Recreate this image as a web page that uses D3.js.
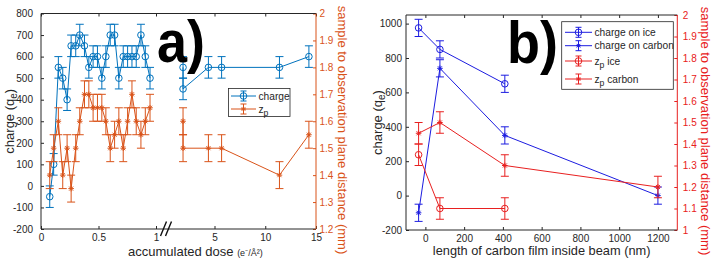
<!DOCTYPE html>
<html><head><meta charset="utf-8">
<script src="https://cdn.jsdelivr.net/npm/d3@7/dist/d3.min.js"></script>
<style>body{margin:0;background:#fff}svg{display:block}text{font-family:"Liberation Sans",Arial,Helvetica,sans-serif}</style>
</head><body><svg id="c" width="716" height="263"></svg>
<script>
// ---------- data: panel a ----------
const doseLow   = [0.076,0.110,0.151,0.189,0.227,0.262,0.302,0.337,0.378,0.416,0.453,0.491,0.529,0.564,0.602,0.640,0.677,0.715,0.753,0.791,0.828,0.869,0.907,0.948];
const chargeLow = [-50,100,550,500,400,650,650,700,650,550,600,600,500,600,700,700,500,600,600,600,600,700,600,500];
const zpLow     = [1.4,1.5,1.6,1.4,1.5,1.35,1.5,1.6,1.7,1.7,1.65,1.65,1.65,1.6,1.5,1.55,1.6,1.5,1.6,1.7,1.6,1.55,1.6,1.65];
const doseHigh   = [1.9,1.9,4.4,5.7,11.4,14.3];
const chargeHigh = [550,450,550,550,550,600];
const zpHigh     = [1.6,1.5,1.5,1.5,1.4,1.55];
const chargeErrA = 50, zpErrA = 0.05;
const doseTicksLow = [0,0.5,1];
const doseTicksHigh = [5,10,15];
const chargeTicksA = [-200,-100,0,100,200,300,400,500,600,700,800];
const zpTicksA = [1.2,1.3,1.4,1.5,1.6,1.7,1.8,1.9,2];
const legendA = ["charge","z|p"];
// ---------- data: panel b ----------
const lengthIce    = [-35,75,410];
const chargeIce    = [975,850,650];
const zpIce        = [1.35,1.1,1.1];
const lengthCarbon = [-35,75,410,1200];
const chargeCarbon = [-100,740,350,0];
const zpCarbon     = [1.45,1.5,1.3,1.2];
const chargeErrB = 50, zpErrB = 0.05;
const lengthTicks  = [0,200,400,600,800,1000,1200];
const chargeTicksB = [-200,0,200,400,600,800,1000];
const zpTicksB     = [1,1.1,1.2,1.3,1.4,1.5,1.6,1.7,1.8,1.9,2];
const legendB = ["charge on ice","charge on carbon","z|p ice","z|p carbon"];

// ---------- styles ----------
const AX = "#262626";
const BLUE_A = "#0072BD", ORANGE = "#D95319";
const BLUE_B = "#1c1ce0", RED_B = "#e82020";
const fmt = d => String(+d.toFixed(2));

const svg = d3.select("#c");

function starPath(x, y, s) {
  const k = s * 0.72;
  return `M${x-s},${y}H${x+s}M${x},${y-s}V${y+s}M${x-k},${y-k}L${x+k},${y+k}M${x-k},${y+k}L${x+k},${y-k}`;
}
function drawSeries(g, xs, ys, err, xf, yf, color, marker) {
  const pts = xs.map((x, i) => [xf(x), yf(ys[i]), yf(ys[i] - err), yf(ys[i] + err)]);
  g.append("path").attr("d", d3.line()(pts.map(p => [p[0], p[1]])))
    .attr("fill", "none").attr("stroke", color).attr("stroke-width", 1);
  const eb = g.append("g").attr("stroke", color).attr("stroke-width", 1).attr("fill", "none");
  pts.forEach(p => {
    eb.append("path").attr("d", `M${p[0]},${p[2]}V${p[3]}M${p[0]-4},${p[2]}H${p[0]+4}M${p[0]-4},${p[3]}H${p[0]+4}`);
    if (marker === "o") eb.append("circle").attr("cx", p[0]).attr("cy", p[1]).attr("r", 3.3);
    else eb.append("path").attr("d", starPath(p[0], p[1], 2.8));
  });
}
function styleAxis(g, color, fs) {
  g.select(".domain").remove();
  g.selectAll("line").attr("stroke", color);
  g.selectAll("text").attr("fill", color).attr("font-size", fs)
    .attr("font-family", '"Liberation Sans",Arial,Helvetica,sans-serif');
}
function subText(g, x, y, label, fs, color, anchor) {
  const [main, rest] = label.split("|");
  const t = g.append("text").attr("x", x).attr("y", y).attr("font-size", fs)
    .attr("fill", color).attr("text-anchor", anchor || "start");
  t.append("tspan").text(main);
  if (rest !== undefined) {
    const parts = rest.split(" ");
    t.append("tspan").attr("dy", fs * 0.35).attr("font-size", fs * 0.85).text(parts[0]);
    if (parts.length > 1) t.append("tspan").attr("dy", -fs * 0.35).text(" " + parts.slice(1).join(" "));
  }
  return t;
}
function legendEntry(g, x0, x1, y, color, marker, label) {
  const xm = (x0 + x1) / 2;
  g.append("line").attr("x1", x0).attr("x2", x1).attr("y1", y).attr("y2", y).attr("stroke", color);
  g.append("path").attr("d", `M${xm},${y-5}V${y+5}M${xm-3},${y-5}H${xm+3}M${xm-3},${y+5}H${xm+3}`).attr("stroke", color).attr("fill","none");
  if (marker === "o") g.append("circle").attr("cx", xm).attr("cy", y).attr("r", 3.3).attr("fill", "none").attr("stroke", color);
  else g.append("path").attr("d", starPath(xm, y, 2.5)).attr("stroke", color);
  subText(g, x1 + 2.5, y + 3.6, label, 10.2, AX);
}

// ================= PANEL A =================
{
  const L = 41, R = 316, T = 13.5, B = 229;
  const xLow = d3.scaleLinear().domain([0, 1]).range([L, 156]);
  const xHigh = d3.scaleLinear().domain([5, 15]).range([214.5, R]);
  const yC = d3.scaleLinear().domain([-200, 800]).range([B, T]);
  const yZ = d3.scaleLinear().domain([1.2, 2.0]).range([B, T]);
  const g = svg.append("g");

  const gl = g.append("g").attr("transform", `translate(${L},0)`)
    .call(d3.axisLeft(yC).tickValues(chargeTicksA).tickSize(-3).tickPadding(8).tickFormat(fmt));
  styleAxis(gl, AX, 10);
  const gr = g.append("g").attr("transform", `translate(${R},0)`)
    .call(d3.axisRight(yZ).tickValues(zpTicksA).tickSize(-3).tickPadding(3.5).tickFormat(fmt));
  styleAxis(gr, ORANGE, 10);
  [[xLow, doseTicksLow], [xHigh, doseTicksHigh]].forEach(([sc, tv]) => {
    const gb = g.append("g").attr("transform", `translate(0,${B})`)
      .call(d3.axisBottom(sc).tickValues(tv).tickSize(-3).tickPadding(5).tickFormat(fmt));
    styleAxis(gb, AX, 10);
    const gt = g.append("g").attr("transform", `translate(0,${T})`)
      .call(d3.axisTop(sc).tickValues(tv).tickSize(-3).tickFormat(""));
    styleAxis(gt, AX, 10);
  });
  g.append("path").attr("d", `M${L},${T}V${B}H${R}M${L},${T}H${R}`).attr("stroke", AX).attr("fill", "none");
  g.append("path").attr("d", `M${R},${T}V${B}`).attr("stroke", ORANGE).attr("fill", "none");
  g.append("path").attr("d", "M160.5,236 L166.5,221.5 M165.5,236 L171.5,221.5").attr("stroke", "#111").attr("stroke-width", 1.4).attr("fill", "none");

  drawSeries(g, doseLow, chargeLow, chargeErrA, xLow, yC, BLUE_A, "o");
  drawSeries(g, doseHigh, chargeHigh, chargeErrA, d => xHigh(d), yC, BLUE_A, "o");
  drawSeries(g, doseLow, zpLow, zpErrA, xLow, yZ, ORANGE, "*");
  drawSeries(g, doseHigh, zpHigh, zpErrA, d => xHigh(d), yZ, ORANGE, "*");

  g.append("text").attr("transform", "translate(157,62) scale(0.9,1)")
    .attr("font-size", 60).attr("font-weight", "bold").attr("fill", "#000").text("a)");

  const lg = g.append("g");
  lg.append("rect").attr("x", 228.5).attr("y", 88.5).attr("width", 61.5).attr("height", 28)
    .attr("fill", "#fff").attr("stroke", AX).attr("stroke-width", 0.8);
  legendEntry(lg, 231, 256, 96, BLUE_A, "o", legendA[0]);
  legendEntry(lg, 231, 256, 109, ORANGE, "*", legendA[1]);

  const yl = g.append("text").attr("transform", `translate(14,${(T+B)/2}) rotate(-90)`)
    .attr("text-anchor", "middle").attr("font-size", 13).attr("fill", AX);
  yl.append("tspan").text("charge (q");
  yl.append("tspan").attr("font-size", 10).attr("dy", 3).text("e");
  yl.append("tspan").attr("dy", -3).text(")");
  const xl = g.append("text").attr("x", 128).attr("y", 256).attr("font-size", 13).attr("fill", AX);
  xl.append("tspan").text("accumulated dose ");
  xl.append("tspan").attr("font-size", 9).text("(e⁻/Å²)");
  g.append("text").attr("transform", `translate(338,130) rotate(90)`)
    .attr("text-anchor", "middle").attr("font-size", 13).attr("fill", ORANGE)
    .text("sample to observation plane distance (mm)");
}

// ================= PANEL B =================
{
  const L = 406, R = 677.3, T = 15, B = 230;
  const x = d3.scaleLinear().domain([-100, 1300]).range([L, R]);
  const yC = d3.scaleLinear().domain([-200, 1050]).range([B, T]);
  const yZ = d3.scaleLinear().domain([1, 2]).range([B, T]);
  const g = svg.append("g");

  const gl = g.append("g").attr("transform", `translate(${L},0)`)
    .call(d3.axisLeft(yC).tickValues(chargeTicksB).tickSize(-3).tickPadding(4).tickFormat(fmt));
  styleAxis(gl, AX, 10);
  const gr = g.append("g").attr("transform", `translate(${R},0)`)
    .call(d3.axisRight(yZ).tickValues(zpTicksB).tickSize(-3).tickPadding(5.5).tickFormat(fmt));
  styleAxis(gr, RED_B, 10);
  const gb = g.append("g").attr("transform", `translate(0,${B})`)
    .call(d3.axisBottom(x).tickValues(lengthTicks).tickSize(-3).tickPadding(4.5).tickFormat(fmt));
  styleAxis(gb, AX, 10);
  const gt = g.append("g").attr("transform", `translate(0,${T})`)
    .call(d3.axisTop(x).tickValues(lengthTicks).tickSize(-3).tickFormat(""));
  styleAxis(gt, AX, 10);
  g.append("path").attr("d", `M${L},${T}V${B}H${R}M${L},${T}H${R}`).attr("stroke", AX).attr("fill", "none");
  g.append("path").attr("d", `M${R},${T}V${B}`).attr("stroke", RED_B).attr("fill", "none");

  drawSeries(g, lengthIce, chargeIce, chargeErrB, x, yC, BLUE_B, "o");
  drawSeries(g, lengthCarbon, chargeCarbon, chargeErrB, x, yC, BLUE_B, "*");
  drawSeries(g, lengthIce, zpIce, zpErrB, x, yZ, RED_B, "o");
  drawSeries(g, lengthCarbon, zpCarbon, zpErrB, x, yZ, RED_B, "*");

  g.append("text").attr("transform", "translate(507,63.3) scale(0.9,1)")
    .attr("font-size", 60).attr("font-weight", "bold").attr("fill", "#000").text("b)");

  const lg = g.append("g");
  lg.append("rect").attr("x", 561.7).attr("y", 21.7).attr("width", 111.6).attr("height", 67.6)
    .attr("fill", "#fff").attr("stroke", AX).attr("stroke-width", 0.8);
  const rows = [32.3, 45.7, 61, 79];
  const cols = [BLUE_B, BLUE_B, RED_B, RED_B];
  const mks = ["o", "*", "o", "*"];
  legendB.forEach((lab, i) => legendEntry(lg, 565, 592, rows[i], cols[i], mks[i], lab));

  const yl = g.append("text").attr("transform", `translate(382,${(T+B)/2}) rotate(-90)`)
    .attr("text-anchor", "middle").attr("font-size", 13).attr("fill", AX);
  yl.append("tspan").text("charge (q");
  yl.append("tspan").attr("font-size", 10).attr("dy", 3).text("e");
  yl.append("tspan").attr("dy", -3).text(")");
  g.append("text").attr("x", (L + R) / 2).attr("y", 255).attr("text-anchor", "middle")
    .attr("font-size", 12.8).attr("fill", AX).text("length of carbon film inside beam (nm)");
  g.append("text").attr("transform", `translate(701,131) rotate(90)`)
    .attr("text-anchor", "middle").attr("font-size", 13).attr("fill", RED_B)
    .text("sample to observation plane distance (mm)");
}
</script></body></html>
